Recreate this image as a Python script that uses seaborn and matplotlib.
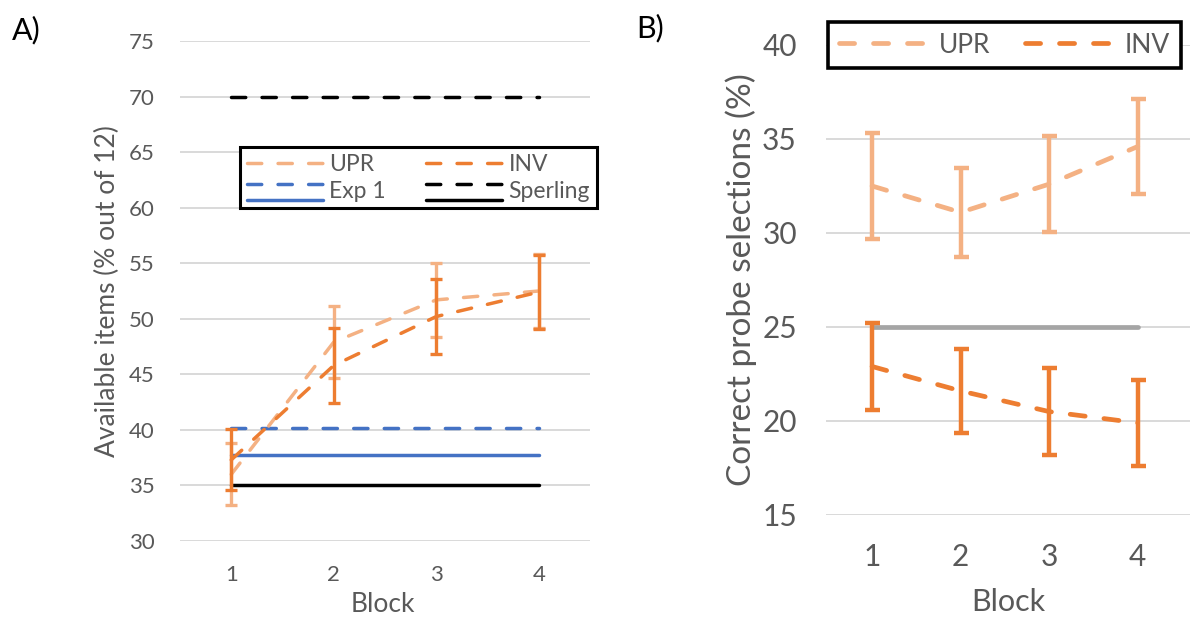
import matplotlib
matplotlib.use("Agg")
import matplotlib.pyplot as plt
import seaborn as sns
from matplotlib.legend_handler import HandlerBase
from matplotlib.lines import Line2D

# ---------------- data ----------------
blocks = [1, 2, 3, 4]
ref_span = [1, 4]

# Panel A: available items (% out of 12)
a_upr = [36.0, 47.9, 51.7, 52.5]
a_upr_err = [2.8, 3.25, 3.3, 3.3]
a_inv = [37.3, 45.8, 50.2, 52.4]
a_inv_err = [2.75, 3.4, 3.35, 3.35]
exp1_upr = 40.2
exp1_inv = 37.7
sperling_upr = 70.0
sperling_inv = 35.0
a_yticks = [30, 35, 40, 45, 50, 55, 60, 65, 70, 75]

# Panel B: correct probe selections (%)
b_upr = [32.5, 31.1, 32.6, 34.6]
b_upr_err = [2.8, 2.35, 2.55, 2.55]
b_inv = [22.9, 21.6, 20.5, 19.9]
b_inv_err = [2.3, 2.25, 2.3, 2.3]
chance = 25.0
b_yticks = [15, 20, 25, 30, 35, 40]

series_names = ["UPR", "INV"]
ref_names = ["Exp 1", "Sperling"]

# ---------------- style ----------------
C_UPR = "#F4B183"
C_INV = "#ED7D31"
C_BLUE = "#4472C4"
C_BLACK = "#000000"
C_GRAY = "#A5A5A5"
C_GRID = "#D9D9D9"
C_TEXT = "#595959"

sns.set_theme(style="white")
plt.rcParams["font.family"] = ["Lato", "DejaVu Sans"]

DASH_A = (4.1, 4.7)
DASH_B = (3.2, 4.0)

fig = plt.figure(figsize=(11.9, 6.19), dpi=100)
W, H = 1190, 619
axA = fig.add_axes([180 / W, (H - 541) / H, 410 / W, 500 / H])
axB = fig.add_axes([826 / W, (H - 515) / H, 364 / W, 470 / H])


def style_axis(ax, yticks, xlim, tick_fs, xpad, ypad):
    for s in ax.spines.values():
        s.set_visible(False)
    ax.set_xlim(*xlim)
    ax.set_ylim(yticks[0], yticks[-1])
    ax.set_yticks(yticks)
    ax.set_xticks(blocks)
    ax.set_xticklabels([str(b) for b in blocks])
    ax.yaxis.grid(True, color=C_GRID, lw=1.4, zorder=0)
    ax.xaxis.grid(False)
    ax.tick_params(axis="both", length=0, labelcolor=C_TEXT, labelsize=tick_fs)
    ax.tick_params(axis="x", pad=xpad)
    ax.tick_params(axis="y", pad=ypad)
    ax.set_axisbelow(True)


# ---------------- Panel A ----------------
LW_A = 2.5
sns.lineplot(x=ref_span, y=[exp1_upr, exp1_upr], ax=axA, color=C_BLUE, lw=LW_A,
             linestyle=(0, DASH_A), dash_capstyle="round", legend=False, zorder=3)
sns.lineplot(x=ref_span, y=[exp1_inv, exp1_inv], ax=axA, color=C_BLUE, lw=LW_A,
             solid_capstyle="round", legend=False, zorder=3)
sns.lineplot(x=ref_span, y=[sperling_upr, sperling_upr], ax=axA, color=C_BLACK, lw=LW_A,
             linestyle=(0, DASH_A), dash_capstyle="round", legend=False, zorder=3)
sns.lineplot(x=ref_span, y=[sperling_inv, sperling_inv], ax=axA, color=C_BLACK, lw=LW_A,
             solid_capstyle="round", legend=False, zorder=3)

axA.errorbar(blocks, a_upr, yerr=a_upr_err, fmt="none", ecolor=C_UPR, elinewidth=2.4,
             capsize=4.4, capthick=2.4, zorder=4)
sns.lineplot(x=blocks, y=a_upr, ax=axA, color=C_UPR, lw=LW_A, linestyle=(0, DASH_A),
             dash_capstyle="round", legend=False, zorder=5)
axA.errorbar(blocks, a_inv, yerr=a_inv_err, fmt="none", ecolor=C_INV, elinewidth=2.4,
             capsize=4.4, capthick=2.4, zorder=6)
sns.lineplot(x=blocks, y=a_inv, ax=axA, color=C_INV, lw=LW_A, linestyle=(0, DASH_A),
             dash_capstyle="round", legend=False, zorder=7)

style_axis(axA, a_yticks, (0.5, 4.5), 16, 17, 18)
axA.set_xlabel("Block", fontsize=19, color=C_TEXT)
axA.set_ylabel("Available items (% out of 12)", fontsize=19, color=C_TEXT)
axA.xaxis.set_label_coords(0.495, -0.103)
axA.yaxis.set_label_coords(-0.147, 0.5)


class LinePair:
    def __init__(self, color, lw):
        self.color = color
        self.lw = lw


class LinePairHandler(HandlerBase):
    def create_artists(self, legend, orig_handle, xdescent, ydescent, width, height,
                       fontsize, trans):
        x0, x1 = -xdescent, -xdescent + width
        yt = -ydescent + height * 0.85
        yb = -ydescent - height * 0.15
        d = Line2D([x0, x1], [yt, yt], color=orig_handle.color, lw=orig_handle.lw,
                   linestyle=(0, DASH_A), dash_capstyle="round")
        s = Line2D([x0, x1], [yb, yb], color=orig_handle.color, lw=orig_handle.lw,
                   solid_capstyle="round")
        d.set_transform(trans)
        s.set_transform(trans)
        return [d, s]


hA = [
    Line2D([], [], color=C_UPR, lw=LW_A, linestyle=(0, DASH_A), dash_capstyle="round"),
    LinePair(C_BLUE, LW_A),
    Line2D([], [], color=C_INV, lw=LW_A, linestyle=(0, DASH_A), dash_capstyle="round"),
    LinePair(C_BLACK, LW_A),
]
labA = [series_names[0], ref_names[0], series_names[1], ref_names[1]]
legA = axA.legend(hA, labA, ncol=2, loc="upper left",
                  bbox_to_anchor=(240 / W, 1 - 147 / H), bbox_transform=fig.transFigure,
                  borderaxespad=0, fontsize=16.5, frameon=True, fancybox=False,
                  handlelength=3.3, handleheight=0.7, handletextpad=0.3,
                  columnspacing=1.75, labelspacing=0.25, borderpad=0.3,
                  handler_map={LinePair: LinePairHandler()})
legA.get_frame().set_edgecolor("black")
legA.get_frame().set_linewidth(2.2)
legA.get_frame().set_facecolor("white")
legA.get_frame().set_alpha(1)
for t in legA.get_texts():
    t.set_color(C_TEXT)
legA.set_zorder(10)

# ---------------- Panel B ----------------
LW_B = 3.4
sns.lineplot(x=ref_span, y=[chance, chance], ax=axB, color=C_GRAY, lw=LW_B,
             solid_capstyle="round", legend=False, zorder=3)
axB.errorbar(blocks, b_upr, yerr=b_upr_err, fmt="none", ecolor=C_UPR, elinewidth=3.2,
             capsize=5.4, capthick=3.2, zorder=4)
sns.lineplot(x=blocks, y=b_upr, ax=axB, color=C_UPR, lw=LW_B, linestyle=(0, DASH_B),
             dash_capstyle="round", legend=False, zorder=5)
axB.errorbar(blocks, b_inv, yerr=b_inv_err, fmt="none", ecolor=C_INV, elinewidth=3.2,
             capsize=5.4, capthick=3.2, zorder=4)
sns.lineplot(x=blocks, y=b_inv, ax=axB, color=C_INV, lw=LW_B, linestyle=(0, DASH_B),
             dash_capstyle="round", legend=False, zorder=5)

style_axis(axB, b_yticks, (0.48, 4.59), 21.5, 20, 21)
axB.set_xlabel("Block", fontsize=22, color=C_TEXT)
axB.set_ylabel("Correct probe selections (%)", fontsize=24, color=C_TEXT)
axB.xaxis.set_label_coords(0.5, -0.155)
axB.yaxis.set_label_coords(-0.19, 0.5)

hB = [
    Line2D([], [], color=C_UPR, lw=LW_B, linestyle=(0, DASH_B), dash_capstyle="round"),
    Line2D([], [], color=C_INV, lw=LW_B, linestyle=(0, DASH_B), dash_capstyle="round"),
]
legB = axB.legend(hB, series_names, ncol=2, loc="upper left",
                  bbox_to_anchor=(828 / W, 1 - 22 / H), bbox_transform=fig.transFigure,
                  borderaxespad=0, fontsize=19, frameon=True, fancybox=False,
                  handlelength=3.5, handletextpad=0.3, columnspacing=1.3,
                  borderpad=0.4)
legB.get_frame().set_edgecolor("black")
legB.get_frame().set_linewidth(2.6)
legB.get_frame().set_facecolor("white")
legB.get_frame().set_alpha(1)
for t in legB.get_texts():
    t.set_color(C_TEXT)
legB.set_zorder(10)

# panel letters
fig.text(12 / W, 1 - 30 / H, "A)", fontsize=22, color="black", va="center", ha="left")
fig.text(636 / W, 1 - 28 / H, "B)", fontsize=22, color="black", va="center", ha="left")

fig.savefig("out.png", dpi=100, facecolor="white")
